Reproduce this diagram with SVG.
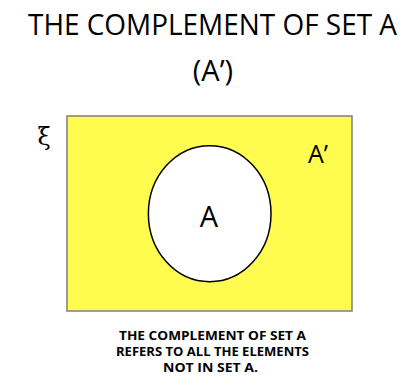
<svg xmlns="http://www.w3.org/2000/svg" width="417" height="385" viewBox="0 0 417 385">
<style>
text{font-family:"Open Sans","Noto Sans","Liberation Sans",sans-serif;fill:#000;text-anchor:middle}
.title{font-size:29px}
.note{font-size:12.5px;font-weight:bold}
</style>
<rect width="417" height="385" fill="#fff"/>
<g id="title">
<text class="title" x="212.5" y="35" textLength="369" lengthAdjust="spacingAndGlyphs">THE COMPLEMENT OF SET A</text>
<text class="title" x="213" y="81">(A’)</text>
</g>
<g id="universal">
<rect x="67" y="116" width="285" height="195" fill="#FFFB4F" stroke="#7f7f7f" stroke-width="1.5"/>
<text x="44" y="145" style="font-size:24px;font-family:'DejaVu Serif','Liberation Serif',serif">ξ</text>
<text x="318" y="163" style="font-size:25px">A’</text>
</g>
<g id="setA">
<ellipse cx="209.7" cy="213.7" rx="61.3" ry="68" fill="#fff" stroke="#000" stroke-width="1.5"/>
<text x="209" y="227" style="font-size:29px">A</text>
</g>
<g id="note">
<text class="note" x="212.5" y="340" textLength="187" lengthAdjust="spacingAndGlyphs">THE COMPLEMENT OF SET A</text>
<text class="note" x="212.5" y="356" textLength="193" lengthAdjust="spacingAndGlyphs">REFERS TO ALL THE ELEMENTS</text>
<text class="note" x="210.5" y="372" textLength="95" lengthAdjust="spacingAndGlyphs">NOT IN SET A.</text>
</g>
</svg>
